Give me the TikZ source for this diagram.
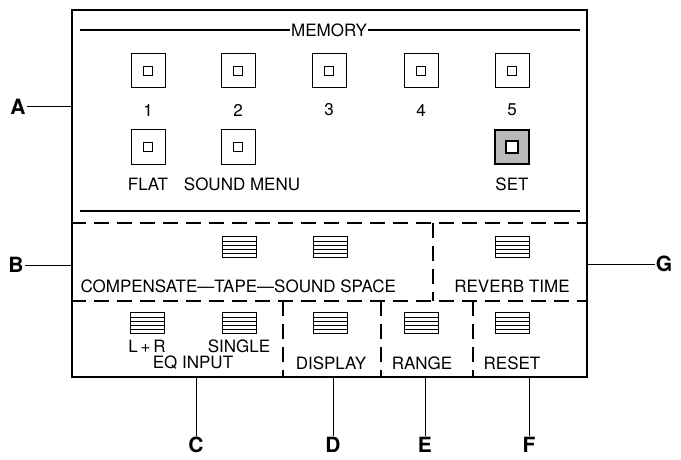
\documentclass[tikz,border=0pt]{standalone}
\usepackage{fontspec}
\setmainfont{TeX Gyre Heros}
\begin{document}
\begin{tikzpicture}[
    x=1pt, y=-1pt,
    font=\fontsize{17}{20}\selectfont,
    panel/.style={
        draw,
        line width=2pt,
        minimum width=515,
        minimum height=367,
        inner sep=0pt
    },
    key/.style={
        draw,
        line width=1pt,
        minimum size=34,
        inner sep=0pt
    },
    lamp/.style={
        draw,
        line width=0.9pt,
        fill=white,
        minimum size=9,
        inner sep=0pt
    },
    fader/.style={
        draw,
        line width=1pt,
        minimum width=34,
        minimum height=21,
        inner sep=0pt,
        path picture={
            \foreach \k in {-6,-2,2,6}
                \draw[line width=0.8pt] ([yshift=\k pt]path picture bounding box.west) -- ([yshift=\k pt]path picture bounding box.east);
        }
    },
    pointer/.style={font=\fontsize{21}{24}\selectfont\bfseries, inner sep=1pt},
    rule/.style={line width=2pt},
    divider/.style={line width=1.8pt, dash pattern=on 15pt off 8pt},
    leader/.style={line width=1pt}
]
\useasboundingbox (0,0) rectangle (681,460);

% ---------------------------------------------------------------------------
% Front panel
% ---------------------------------------------------------------------------
\node[panel] (panel) at (329.5,193.5) {};

% ---------------------------------------------------------------------------
% Memory section
% ---------------------------------------------------------------------------
\node[fill=white, inner sep=1pt] (memory) at (329,30) {MEMORY};
\coordinate (memL) at (80,30);
\coordinate (memR) at (580,30);
\draw[rule] (memL) -- (memory.west);
\draw[rule] (memory.east) -- (memR);

\node[key] (m1) at (148,71) {};
\node[key] (m2) at (238,71) {};
\node[key] (m3) at (329,71) {};
\node[key] (m4) at (421,71) {};
\node[key] (m5) at (512,71) {};
\node[lamp] at (m1) {};
\node[lamp] at (m2) {};
\node[lamp] at (m3) {};
\node[lamp] at (m4) {};
\node[lamp] at (m5) {};
\node (l1) at (148,110) {1};
\node (l2) at (238,110) {2};
\node (l3) at (329,110) {3};
\node (l4) at (421,110) {4};
\node (l5) at (512,110) {5};

\node[key] (flat) at (148,147) {};
\node[key] (menu) at (238,147) {};
\node[key, fill=gray!55, line width=1.3pt] (set) at (512,147) {};
\node[lamp] at (flat) {};
\node[lamp] at (menu) {};
\node[lamp, minimum size=12, line width=1.2pt] at (set) {};
\node (lflat) at (148,184) {FLAT};
\node (lmenu) at (242,184) {SOUND MENU};
\node (lset) at (512,184) {SET};

\coordinate (sepL) at (80,211);
\coordinate (sepR) at (580,211);
\draw[rule] (sepL) -- (sepR);

% ---------------------------------------------------------------------------
% Sound space / reverb row
% ---------------------------------------------------------------------------
\coordinate (rowB) at (0,223);
\coordinate (rowC) at (0,301);
\draw[divider] (rowB -| panel.west) -- (rowB -| panel.east);
\draw[divider] (rowC -| panel.west) -- (rowC -| panel.east);
\draw[divider] (433,223) -- (433,301);

\node[fader] (tape) at (239,247) {};
\node[fader] (space) at (330,247) {};
\node[fader] (reverb) at (512,247) {};
\node[anchor=west] (lcomp) at (77,286) {COMPENSATE---TAPE---SOUND SPACE};
\node (lreverb) at (512,286) {REVERB TIME};

% ---------------------------------------------------------------------------
% EQ input / display / range / reset row
% ---------------------------------------------------------------------------
\draw[divider] (283,301) -- (283,377);
\draw[divider] (381,301) -- (381,377);
\draw[divider] (473,301) -- (473,377);

\node[fader] (lr) at (147,323) {};
\node[fader] (single) at (239,323) {};
\node[fader] (display) at (330,323) {};
\node[fader] (range) at (421,323) {};
\node[fader] (reset) at (512,323) {};
\node (llr) at (147,346) {L\,+\,R};
\node (lsingle) at (239,346) {SINGLE};
\node (leq) at (193,363) {EQ INPUT};
\node (ldisplay) at (331,363) {DISPLAY};
\node (lrange) at (422,363) {RANGE};
\node (lreset) at (512,363) {RESET};

% ---------------------------------------------------------------------------
% Pointers
% ---------------------------------------------------------------------------
\node[pointer] (A) at (18,107) {A};
\node[pointer] (B) at (16,265) {B};
\node[pointer] (G) at (664,264) {G};
\node[pointer] (C) at (196,445) {C};
\node[pointer] (D) at (333,445) {D};
\node[pointer] (E) at (425,445) {E};
\node[pointer] (F) at (529,445) {F};

\draw[leader] (A.east) -- (A.east -| panel.west);
\draw[leader] (B.east) -- (B.east -| panel.west);
\draw[leader] (G.west) -- (G.west -| panel.east);
\draw[leader] (C.north) -- (C.north |- panel.south);
\draw[leader] (D.north) -- (D.north |- panel.south);
\draw[leader] (E.north) -- (E.north |- panel.south);
\draw[leader] (F.north) -- (F.north |- panel.south);

\end{tikzpicture}
\end{document}
